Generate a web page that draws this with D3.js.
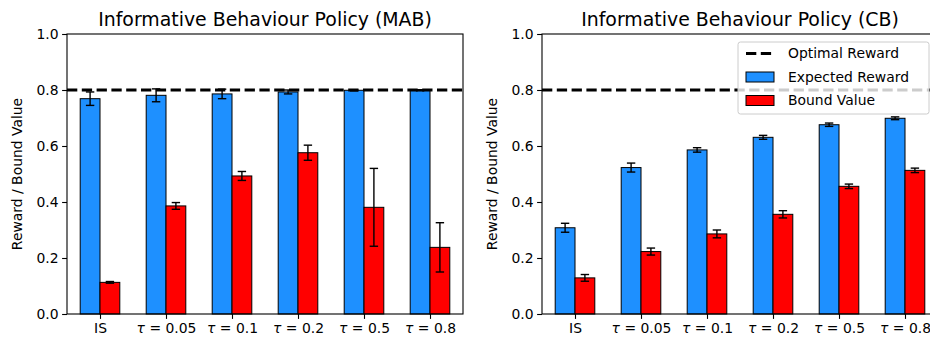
<!DOCTYPE html>
<html>
<head>
<meta charset="utf-8">
<script src="https://cdn.jsdelivr.net/npm/d3@7"></script>
<style>
  html, body { margin: 0; padding: 0; background: #fff; }
  svg { display: block; font-family: "DejaVu Sans", sans-serif; }
</style>
</head>
<body>
<svg id="chart" width="930" height="339"></svg>
<script>
// ---------------- data ----------------
const categories = ["IS", "0.05", "0.1", "0.2", "0.5", "0.8"];
const yTicks = [0.0, 0.2, 0.4, 0.6, 0.8, 1.0];
const optimalReward = 0.8;

const mabExpected    = [0.769, 0.781, 0.786, 0.793, 0.799, 0.799];
const mabExpectedErr = [0.024, 0.023, 0.017, 0.007, 0.002, 0.002];
const mabBound       = [0.113, 0.386, 0.493, 0.576, 0.381, 0.238];
const mabBoundErr    = [0.003, 0.012, 0.016, 0.027, 0.139, 0.088];

const cbExpected     = [0.308, 0.523, 0.586, 0.631, 0.676, 0.699];
const cbExpectedErr  = [0.016, 0.016, 0.008, 0.007, 0.006, 0.005];
const cbBound        = [0.129, 0.223, 0.286, 0.356, 0.456, 0.513];
const cbBoundErr     = [0.012, 0.0125, 0.014, 0.013, 0.008, 0.008];

const titles = ["Informative Behaviour Policy (MAB)", "Informative Behaviour Policy (CB)"];
const yLabel = "Reward / Bound Value";
const legendLabels = ["Optimal Reward", "Expected Reward", "Bound Value"];

const BLUE = "#1e90ff", RED = "#ff0000";

// ---------------- drawing ----------------
const svg = d3.select("#chart");
const yTop = 34, yBottom = 314, panelW = 396;
const barW = 0.3;
const panels = [
  { left: 67,  exp: mabExpected, expErr: mabExpectedErr, bnd: mabBound, bndErr: mabBoundErr, title: titles[0], ylabX: 17, legend: false },
  { left: 542, exp: cbExpected,  expErr: cbExpectedErr,  bnd: cbBound,  bndErr: cbBoundErr,  title: titles[1], ylabX: 492, legend: true }
];

const FS = 13.9;

panels.forEach(p => {
  const g = svg.append("g");
  const x = d3.scaleLinear().domain([-0.5, categories.length - 0.5]).range([p.left, p.left + panelW]);
  const y = d3.scaleLinear().domain([0, 1]).range([yBottom, yTop]);

  const series = [
    { vals: p.exp, errs: p.expErr, color: BLUE, off: -barW },
    { vals: p.bnd, errs: p.bndErr, color: RED, off: 0 }
  ];

  series.forEach(s => {
    g.append("g").selectAll("rect").data(s.vals).join("rect")
      .attr("x", (d, i) => x(i + s.off))
      .attr("width", (d, i) => x(i + s.off + barW) - x(i + s.off))
      .attr("y", d => y(d))
      .attr("height", d => y(0) - y(d))
      .attr("fill", s.color)
      .attr("stroke", "#000")
      .attr("stroke-width", 1);
  });

  // error bars
  series.forEach(s => {
    const eg = g.append("g").attr("stroke", "#000").attr("stroke-width", 1.4);
    s.vals.forEach((d, i) => {
      const cx = x(i + s.off + barW / 2);
      const e = s.errs[i];
      eg.append("line").attr("x1", cx).attr("x2", cx).attr("y1", y(d - e)).attr("y2", y(d + e));
      [d - e, d + e].forEach(v => {
        eg.append("line").attr("x1", cx - 4.2).attr("x2", cx + 4.2).attr("y1", y(v)).attr("y2", y(v));
      });
    });
  });

  // optimal line
  g.append("line")
    .attr("x1", x(-0.5)).attr("x2", x(categories.length - 0.5))
    .attr("y1", y(optimalReward)).attr("y2", y(optimalReward))
    .attr("stroke", "#000").attr("stroke-width", 2.8)
    .attr("stroke-dasharray", "10.3,4.5");

  // spines
  g.append("rect").attr("x", x(-0.5)).attr("y", yTop).attr("width", panelW).attr("height", yBottom - yTop)
    .attr("fill", "none").attr("stroke", "#000").attr("stroke-width", 1.1);

  // y axis
  const yAxis = g.append("g").attr("transform", `translate(${p.left},0)`)
    .call(d3.axisLeft(y).tickValues(yTicks).tickFormat(d3.format(".1f")).tickSizeOuter(0).tickSize(4.9).tickPadding(3.5));
  yAxis.select(".domain").remove();
  yAxis.selectAll("line").attr("stroke-width", 1.1);
  yAxis.selectAll("text").attr("font-size", FS).attr("fill", "#000").attr("font-family", "DejaVu Sans");

  // x axis
  const xAxis = g.append("g").attr("transform", `translate(0,${yBottom})`)
    .call(d3.axisBottom(x).tickValues(d3.range(categories.length)).tickFormat("").tickSizeOuter(0).tickSize(4.9).tickPadding(3.5));
  xAxis.select(".domain").remove();
  xAxis.selectAll("line").attr("stroke-width", 1.1);
  xAxis.selectAll(".tick").each(function(d, i) {
    const t = d3.select(this).select("text")
      .attr("font-size", FS).attr("fill", "#000").attr("font-family", "DejaVu Sans")
      .attr("y", 8.4).attr("dy", "0.76em");
    const lab = categories[i];
    if (lab === "IS") {
      t.text("IS");
    } else {
      t.text(null);
      t.append("tspan").attr("font-style", "italic").text("τ");
      t.append("tspan").text(" = " + lab);
    }
  });

  // title
  g.append("text").attr("x", p.left + panelW / 2).attr("y", 26)
    .attr("text-anchor", "middle").attr("font-size", 18.9).attr("fill", "#000").text(p.title);

  // y label
  g.append("text").attr("transform", `translate(${p.ylabX + 5},${(yTop + yBottom) / 2}) rotate(-90)`)
    .attr("text-anchor", "middle").attr("font-size", FS).attr("fill", "#000").text(yLabel);

  if (p.legend) {
    const lg = svg.append("g");
    const lx = 738, ly = 42, lw = 191, lh = 72;
    lg.append("rect").attr("x", lx).attr("y", ly).attr("width", lw).attr("height", lh)
      .attr("rx", 2.5).attr("fill", "#fff").attr("fill-opacity", 0.8)
      .attr("stroke", "#cccccc").attr("stroke-width", 1);
    const rows = [53.5, 77, 100.5];
    lg.append("line").attr("x1", 746).attr("x2", 774).attr("y1", rows[0]).attr("y2", rows[0])
      .attr("stroke", "#000").attr("stroke-width", 2.8).attr("stroke-dasharray", "10.3,4.5");
    [BLUE, RED].forEach((c, k) => {
      lg.append("rect").attr("x", 746).attr("y", rows[k + 1] - 5).attr("width", 28).attr("height", 10)
        .attr("fill", c).attr("stroke", "#000").attr("stroke-width", 1);
    });
    legendLabels.forEach((t, k) => {
      lg.append("text").attr("x", 788).attr("y", rows[k]).attr("dy", "0.35em")
        .attr("font-size", FS).attr("fill", "#000").text(t);
    });
  }
});
</script>
</body>
</html>
